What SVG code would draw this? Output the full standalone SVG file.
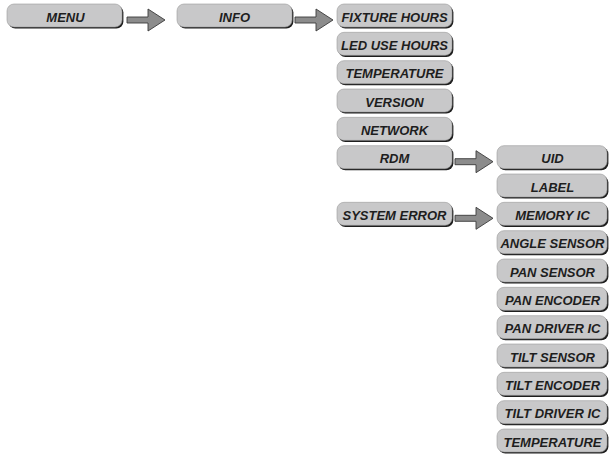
<svg xmlns="http://www.w3.org/2000/svg" width="609" height="461" viewBox="0 0 609 461">
<defs>
<style>
.sh{fill:#1e1e1e}
.bx{fill:#c8c8c9;stroke:#9a9a9a;stroke-width:0.6}
.t{font-family:"Liberation Sans",Arial,sans-serif;font-weight:bold;font-style:italic;font-size:13px;fill:#1e1e1e;text-anchor:middle}
.ar{fill:#8c8c8c;stroke:#3a3a3a;stroke-width:0.9;stroke-linejoin:miter}
</style>
<g id="b115"><rect class="sh" x="1.4" y="1.6" width="115" height="23" rx="7"/><rect class="bx" x="0" y="0" width="115" height="23" rx="7"/></g>
<g id="b111"><rect class="sh" x="1.4" y="1.6" width="110" height="23" rx="7"/><rect class="bx" x="0" y="0" width="110" height="23" rx="7"/></g>
<path id="arr" class="ar" d="M0,-3 H21 V-11 L38,0 L21,11 V3 H0 Z"/>
</defs>
<rect width="609" height="461" fill="#ffffff"/>
<g id="connectors">
<use href="#arr" x="127" y="20"/>
<use href="#arr" x="295" y="20"/>
<use href="#arr" x="455" y="161.7"/>
<use href="#arr" x="455" y="218.3"/>
</g>
<g id="menu"><use href="#b115" x="7" y="4"/><text class="t" x="65.5" y="21.5">MENU</text></g>
<g id="info"><use href="#b115" x="177" y="4"/><text class="t" x="234.5" y="21.5">INFO</text></g>
<g id="fixture-hours"><use href="#b115" x="337" y="4"/><text class="t" x="394.5" y="21.5">FIXTURE HOURS</text></g>
<g id="led-use-hours"><use href="#b115" x="337" y="32.33"/><text class="t" x="394.5" y="49.83">LED USE HOURS</text></g>
<g id="temperature-1"><use href="#b115" x="337" y="60.67"/><text class="t" x="394.5" y="78.17">TEMPERATURE</text></g>
<g id="version"><use href="#b115" x="337" y="89"/><text class="t" x="394.5" y="106.5">VERSION</text></g>
<g id="network"><use href="#b115" x="337" y="117.33"/><text class="t" x="394.5" y="134.83">NETWORK</text></g>
<g id="rdm"><use href="#b115" x="337" y="145.67"/><text class="t" x="394.5" y="163.17">RDM</text></g>
<g id="system-error"><use href="#b115" x="337" y="202.33"/><text class="t" x="394.5" y="219.83">SYSTEM ERROR</text></g>
<g id="uid"><use href="#b111" x="497" y="145.67"/><text class="t" x="552.5" y="163.17">UID</text></g>
<g id="label"><use href="#b111" x="497" y="174"/><text class="t" x="552.5" y="191.5">LABEL</text></g>
<g id="memory-ic"><use href="#b111" x="497" y="202.33"/><text class="t" x="552.5" y="219.83">MEMORY IC</text></g>
<g id="angle-sensor"><use href="#b111" x="497" y="230.67"/><text class="t" x="552.5" y="248.17">ANGLE SENSOR</text></g>
<g id="pan-sensor"><use href="#b111" x="497" y="259"/><text class="t" x="552.5" y="276.5">PAN SENSOR</text></g>
<g id="pan-encoder"><use href="#b111" x="497" y="287.33"/><text class="t" x="552.5" y="304.83">PAN ENCODER</text></g>
<g id="pan-driver-ic"><use href="#b111" x="497" y="315.67"/><text class="t" x="552.5" y="333.17">PAN DRIVER IC</text></g>
<g id="tilt-sensor"><use href="#b111" x="497" y="344"/><text class="t" x="552.5" y="361.5">TILT SENSOR</text></g>
<g id="tilt-encoder"><use href="#b111" x="497" y="372.33"/><text class="t" x="552.5" y="389.83">TILT ENCODER</text></g>
<g id="tilt-driver-ic"><use href="#b111" x="497" y="400.67"/><text class="t" x="552.5" y="418.17">TILT DRIVER IC</text></g>
<g id="temperature-2"><use href="#b111" x="497" y="429"/><text class="t" x="552.5" y="446.5">TEMPERATURE</text></g>
</svg>
